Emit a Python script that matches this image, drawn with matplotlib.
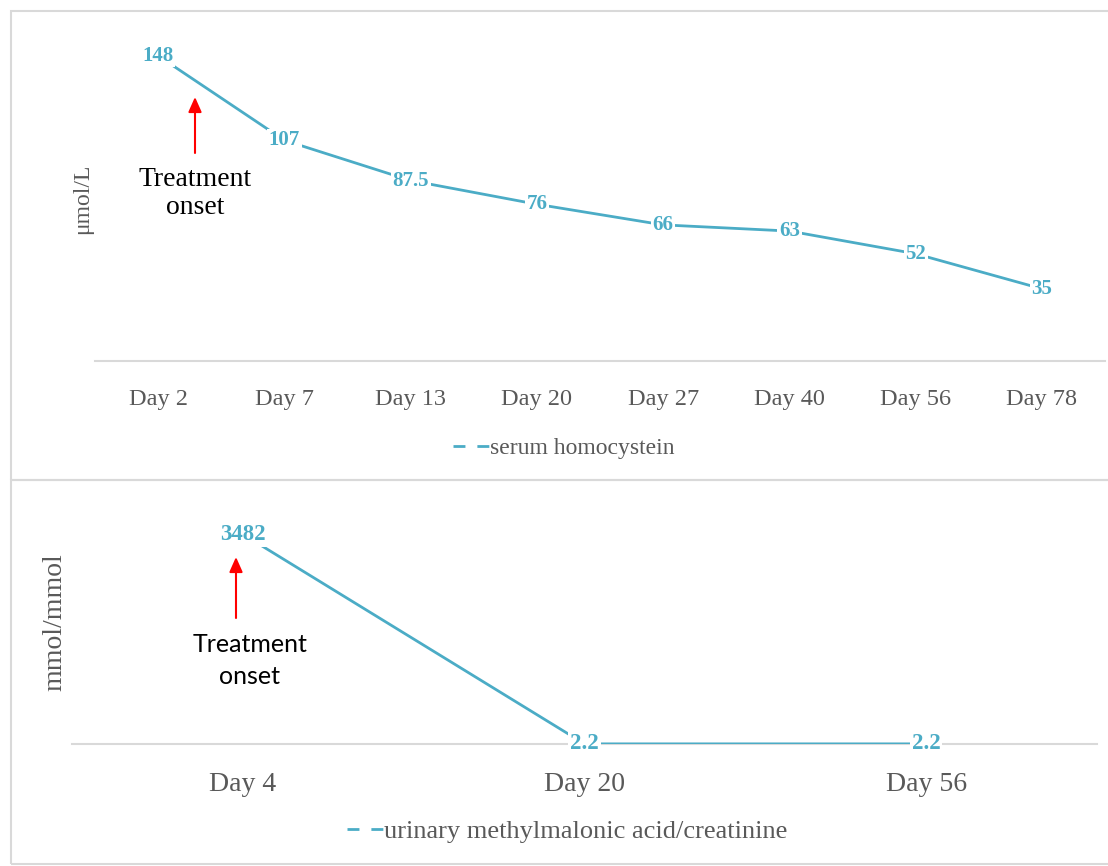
import matplotlib
matplotlib.use("Agg")
import matplotlib.pyplot as plt
from matplotlib.lines import Line2D
from matplotlib.patches import Rectangle, FancyArrowPatch
from matplotlib.font_manager import FontProperties

W, H = 1108, 866

# data
hcy_days = ["Day 2", "Day 7", "Day 13", "Day 20", "Day 27", "Day 40", "Day 56", "Day 78"]
hcy_vals = [148, 107, 87.5, 76, 66, 63, 52, 35]
hcy_lbls = ["148", "107", "87.5", "76", "66", "63", "52", "35"]

mma_days = ["Day 4", "Day 20", "Day 56"]
mma_vals = [3482, 2.2, 2.2]
mma_lbls = ["3482", "2.2", "2.2"]

teal = "#4BACC6"
grey = "#595959"
frame = "#D9D9D9"
serif = "Liberation Serif"


def fx(x):
    return x / W


def fy(y):
    return 1 - y / H


fig = plt.figure(figsize=(W / 100, H / 100), dpi=100)

# panel borders
for y0, y1 in [(11, 480), (480, 864)]:
    fig.add_artist(Rectangle((fx(11), fy(y1)), fx(W + 20) - fx(11), fy(y0) - fy(y1),
                             transform=fig.transFigure, fill=False, ec=frame, lw=1.5))


def panel(rect, days, vals, lbls, ylim, tick_fs, lab_fs):
    ax = fig.add_axes(rect)
    x = list(range(len(days)))
    ax.plot(x, vals, color=teal, lw=2, zorder=3, solid_capstyle="butt")
    for xi, v, t in zip(x, vals, lbls):
        ax.text(xi, v, t, ha="center", va="center", color=teal, fontsize=lab_fs,
                family=serif, fontweight="bold", zorder=4,
                bbox=dict(boxstyle="square,pad=0.08", fc="white", ec="none"))
    ax.set_xlim(-0.5, len(days) - 0.5)
    ax.set_ylim(*ylim)
    ax.set_xticks(x)
    ax.set_xticklabels(days, fontsize=tick_fs, family=serif, color=grey)
    ax.set_yticks([])
    ax.tick_params(axis="x", length=0, pad=20)
    for s in ["top", "left", "right"]:
        ax.spines[s].set_visible(False)
    ax.spines["bottom"].set_color(frame)
    ax.spines["bottom"].set_linewidth(1.5)
    ax.spines["bottom"].set_zorder(1)
    ax.patch.set_alpha(0)
    return ax


ax1 = panel([fx(95), fy(361), fx(1105) - fx(95), fy(31) - fy(361)],
            hcy_days, hcy_vals, hcy_lbls, (0, 160), 17.5, 15)
ax2 = panel([fx(72), fy(744), fx(1097) - fx(72), fy(503) - fy(744)],
            mma_days, mma_vals, mma_lbls, (0, 4000), 20, 16.5)

# y labels
fig.text(fx(83), fy(199), "μmol/L", rotation=90, ha="center", va="center",
         fontsize=17, family=serif, color=grey)
fig.text(fx(55), fy(622), "mmol/mmol", rotation=90, ha="center", va="center",
         fontsize=20, family=serif, color=grey)


# legends
def legend(cx, cy, label, fs, hl):
    h = Line2D([], [], color=teal, lw=2, linestyle=(0, (4.3, 4.3)))
    fig.legend([h], [label], loc="center", bbox_to_anchor=(fx(cx), fy(cy)),
               frameon=False, handlelength=hl, handletextpad=0.0,
               prop=dict(family=serif, size=fs), labelcolor=grey)


legend(564, 448, "serum homocystein", 17, 1.55)
legend(567, 831, "urinary methylmalonic acid/creatinine", 19, 1.42)


# treatment onset arrows
def arrow(x, y_tail, y_tip):
    fig.add_artist(FancyArrowPatch((fx(x), fy(y_tail)), (fx(x), fy(y_tip)),
                                   transform=fig.transFigure, color="red", lw=1.5,
                                   arrowstyle="-|>,head_width=4,head_length=9",
                                   shrinkA=0, shrinkB=0))


arrow(195, 153, 97)
fig.text(fx(195), fy(180), "Treatment", ha="center", va="center", color="black",
         fontproperties=FontProperties(family=serif, size=20))
fig.text(fx(195), fy(208), "onset", ha="center", va="center", color="black",
         fontproperties=FontProperties(family=serif, size=20))

arrow(236, 618, 557)
fig.text(fx(250), fy(645), "Treatment", ha="center", va="center", color="black",
         fontproperties=FontProperties(family="Lato", size=18))
fig.text(fx(250), fy(677), "onset", ha="center", va="center", color="black",
         fontproperties=FontProperties(family="Lato", size=18))

fig.savefig("out.png", dpi=100)
